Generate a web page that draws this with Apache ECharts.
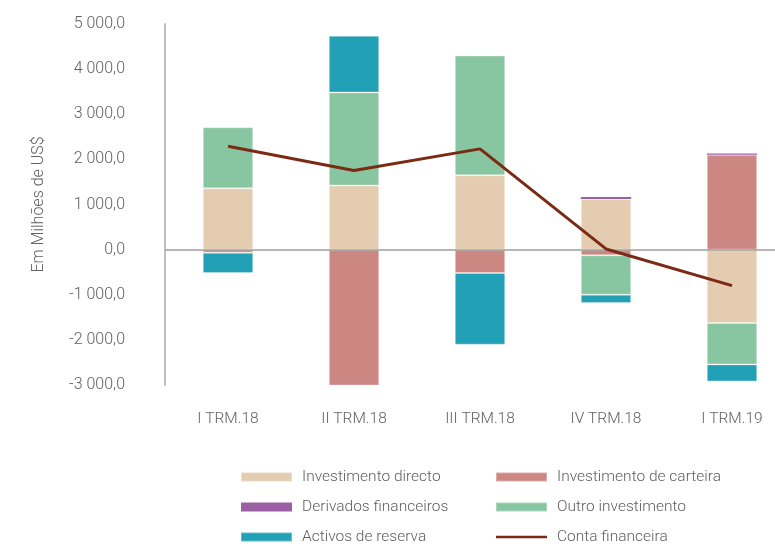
<!DOCTYPE html>
<html>
<head>
<meta charset="utf-8">
<script src="https://cdn.jsdelivr.net/npm/echarts@6/dist/echarts.min.js"></script>
<style>
  html, body { margin: 0; padding: 0; background: #fff; }
  #chart { width: 775px; height: 550px; }
</style>
</head>
<body>
<div id="chart"></div>
<script>
// Quarters and values (millions of US$)
const categories = ["I TRM.18", "II TRM.18", "III TRM.18", "IV TRM.18", "I TRM.19"];
const investimentoDirecto = [1359, 1419, 1648, 1124, -1625];
const investimentoCarteira = [-70, -3067, -517, -126, 2100];
const derivadosFinanceiros = [0, 0, 0, 44, 29];
const outroInvestimento = [1353, 2062, 2654, -872, -918];
const activosReserva = [-447, 1257, -1589, -184, -377];
const contaFinanceira = [2290, 1752, 2233, 15, -798];

const FONT = "Roboto, sans-serif";
const TEXT = "#606060";
const LINE_COLOR = "#7B2A14";

function fmt(v) {
  const neg = v < 0;
  const s = Math.abs(v).toFixed(1).split(".");
  const intPart = s[0].replace(/\B(?=(\d{3})+(?!\d))/g, " ");
  return (neg ? "-" : "") + intPart + "," + s[1];
}

function barSeries(name, data, color, border) {
  return {
    name: name,
    type: "bar",
    stack: "total",
    barWidth: "40%",
    data: data,
    itemStyle: {
      color: color,
      borderColor: border ? "rgba(255,255,255,0.3)" : color,
      borderWidth: border ? 1 : 0
    }
  };
}

const chart = echarts.init(document.getElementById("chart"), null, { renderer: "canvas" });

const series = [
  barSeries("Investimento directo", investimentoDirecto, "#E3CCAF", true),
  barSeries("Investimento de carteira", investimentoCarteira, "#CD8783", true),
  barSeries("Derivados financeiros", derivadosFinanceiros, "#9B60A3", false),
  barSeries("Outro investimento", outroInvestimento, "#88C6A2", true),
  barSeries("Activos de reserva", activosReserva, "#22A0B5", true),
  {
    name: "Conta financeira",
    type: "line",
    data: contaFinanceira,
    symbol: "none",
    lineStyle: { color: LINE_COLOR, width: 3 },
    itemStyle: { color: LINE_COLOR },
    z: 5
  }
];

// zero line drawn separately so the category labels stay at the bottom
series[4].markLine = {
  silent: true,
  symbol: "none",
  label: { show: false },
  lineStyle: { color: "#9e9e9e", width: 1.5, type: "solid" },
  data: [{ yAxis: 0 }]
};

const legendText = { color: TEXT, fontSize: 15.5, fontWeight: 300, fontFamily: FONT, padding: [0, 0, 0, 5] };
// thin line icon: the zero-area stroke M0,0 L0,9 only keeps the full box height
const lineIcon = "path://M0,0 L0,9 M0,3.3 L51,3.3 L51,5.7 L0,5.7 Z";

function legendCol(left, items) {
  return {
    orient: "vertical",
    left: left,
    top: 469,
    padding: 0,
    itemWidth: 51,
    itemHeight: 9,
    itemGap: 14,
    textStyle: legendText,
    data: items
  };
}

chart.setOption({
  animation: false,
  backgroundColor: "#fff",
  // the plot runs past the right edge of the picture, as in the source
  grid: { left: 165, top: 24, width: 630, height: 361, containLabel: false, outerBoundsMode: "none" },
  legend: [
    legendCol(240, [
      { name: "Investimento directo", icon: "rect" },
      { name: "Derivados financeiros", icon: "rect" },
      { name: "Activos de reserva", icon: "rect" }
    ]),
    legendCol(495, [
      { name: "Investimento de carteira", icon: "rect" },
      { name: "Outro investimento", icon: "rect" },
      { name: "Conta financeira", icon: lineIcon, itemStyle: { color: LINE_COLOR } }
    ])
  ],
  xAxis: {
    type: "category",
    data: categories,
    axisLine: { show: false },
    axisTick: { show: false },
    axisLabel: { color: TEXT, fontSize: 15.5, fontWeight: 300, fontFamily: FONT, margin: 26 }
  },
  yAxis: {
    type: "value",
    min: -3000,
    max: 5000,
    interval: 1000,
    name: "Em Milhões de US$",
    nameLocation: "middle",
    nameGap: 118,
    nameTextStyle: { color: TEXT, fontSize: 16, fontWeight: 300, fontFamily: FONT },
    axisLine: { show: true, lineStyle: { color: "#bfbfbf", width: 2 } },
    axisTick: { show: false },
    splitLine: { show: false },
    axisLabel: { color: TEXT, fontSize: 16, fontWeight: 300, fontFamily: FONT, margin: 40, formatter: fmt }
  },
  series: series
});
</script>
</body>
</html>
